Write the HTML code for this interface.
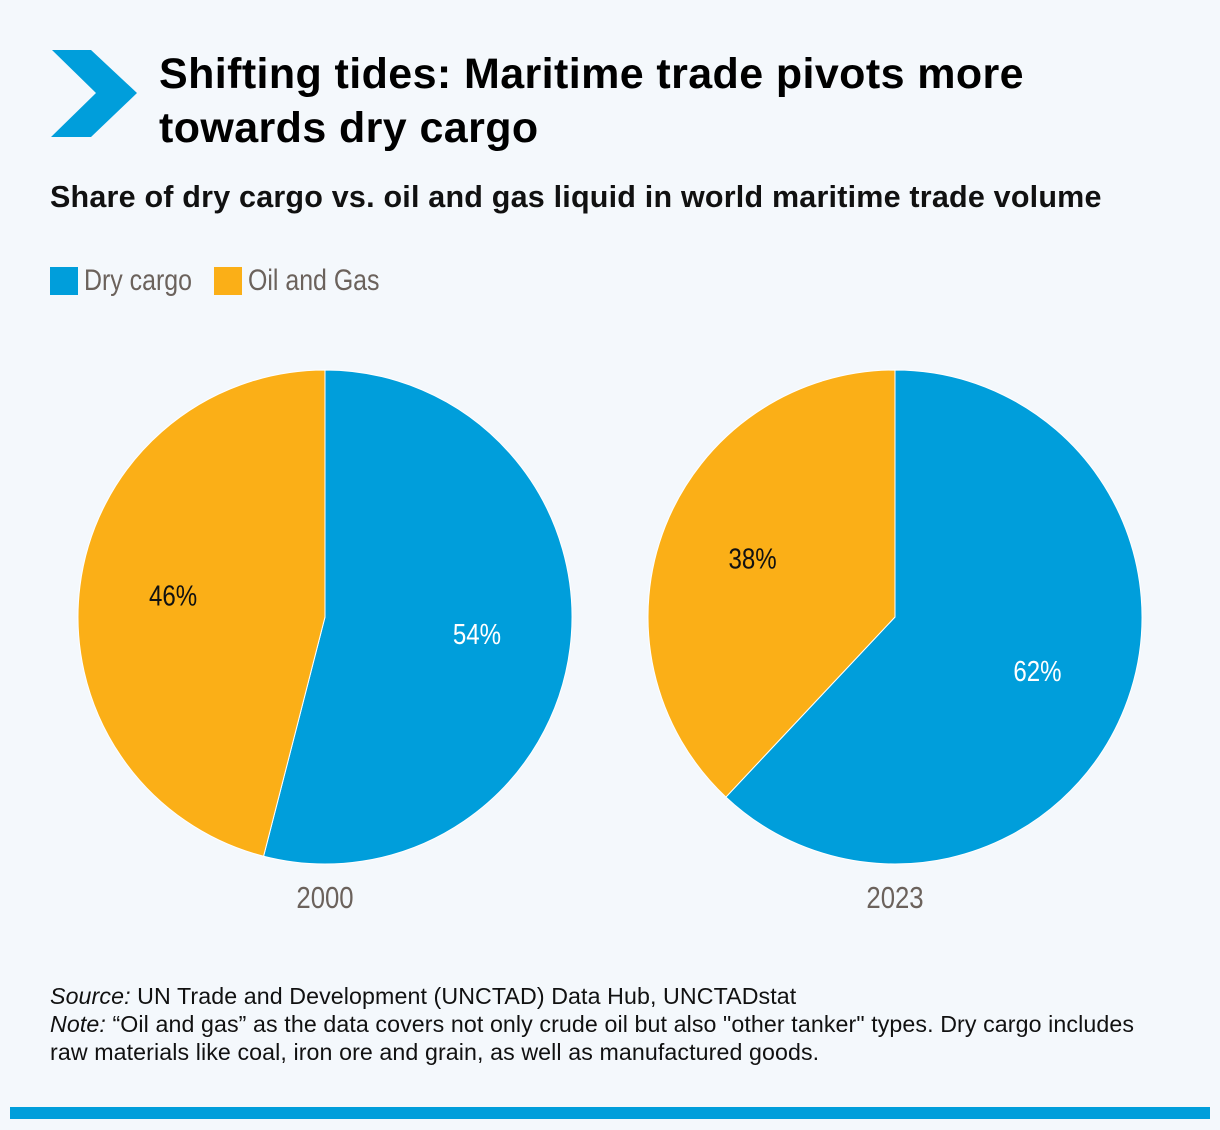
<!DOCTYPE html>
<html><head><meta charset="utf-8"><style>
body{margin:0;background:#f4f8fc;width:1220px;height:1130px;position:relative;overflow:hidden;font-family:"Liberation Sans",sans-serif}
.t{position:absolute;left:159px;top:47px;font-size:43px;font-weight:bold;line-height:54px;color:#000;letter-spacing:0.4px}
.st{position:absolute;left:50px;top:180px;font-size:30.5px;font-weight:bold;color:#111;letter-spacing:0.2px}
.lg{position:absolute;top:264px;font-size:30px;color:#6b625c;display:flex;align-items:center}
.lg span.tx{display:inline-block;transform:scaleX(0.83);transform-origin:left center}
.sw{width:28px;height:28px;display:inline-block;margin-right:6px}
.ft{position:absolute;left:50px;top:982px;font-size:23.2px;line-height:28px;color:#111;letter-spacing:0.1px}
</style></head><body>
<svg style="position:absolute;left:0;top:0" width="160" height="160"><polygon points="52,50 91,50 137,93 91,137 51,137 96,93" fill="#009edb"/></svg>
<div class="t">Shifting tides: Maritime trade pivots more<br>towards dry cargo</div>
<div class="st">Share of dry cargo vs. oil and gas liquid in world maritime trade volume</div>
<div class="lg" style="left:50px"><span class="sw" style="background:#009edb"></span><span class="tx">Dry cargo</span></div>
<div class="lg" style="left:214px"><span class="sw" style="background:#fbaf17"></span><span class="tx">Oil and Gas</span></div>
<svg id="ch" style="position:absolute;left:0;top:0" width="1220" height="960"></svg>
<div class="ft"><i>Source:</i> UN Trade and Development (UNCTAD) Data Hub, UNCTADstat<br><i>Note:</i> “Oil and gas” as the data covers not only crude oil but also "other tanker" types. Dry cargo includes<br>raw materials like coal, iron ore and grain, as well as manufactured goods.</div>
<div style="position:absolute;left:10px;top:1107px;width:1200px;height:12px;background:#009edb"></div>
<script>
const years=["2000","2023"];
const dryCargo=[54,62];
const oilGas=[46,38];
const centersX=[325,895],cy=617,R=247;
const svg=document.getElementById('ch'),NS='http://www.w3.org/2000/svg';
function pt(cx,a,r){return [cx+r*Math.sin(a),cy-r*Math.cos(a)];}
function slice(cx,a0,a1,col,name){
 const p=document.createElementNS(NS,'path');
 const [x0,y0]=pt(cx,a0,R),[x1,y1]=pt(cx,a1,R);
 p.setAttribute('d',`M${cx},${cy}L${x0},${y0}A${R},${R} 0 ${a1-a0>Math.PI?1:0} 1 ${x1},${y1}Z`);
 p.setAttribute('fill',col);p.setAttribute('stroke','#fff');p.setAttribute('stroke-width','1');
 
 
 svg.appendChild(p);
}
function label(x,y,txt,col,name,sz){
 const t=document.createElementNS(NS,'text');
 t.setAttribute('x',0);t.setAttribute('y',0);t.setAttribute('text-anchor','middle');t.setAttribute('dominant-baseline','middle');
 t.setAttribute('transform',`translate(${x},${y}) scale(0.83,1)`);
 t.setAttribute('font-family','"Liberation Sans",sans-serif');t.setAttribute('font-size',sz);t.setAttribute('fill',col);
 t.textContent=txt;
 
 
 svg.appendChild(t);
}
years.forEach((y,i)=>{
 const cx=centersX[i],tot=dryCargo[i]+oilGas[i];
 const a=dryCargo[i]/tot*2*Math.PI;
 slice(cx,0,a,'#009edb','slice-dry-cargo-'+y);
 slice(cx,a,2*Math.PI,'#fbaf17','slice-oil-gas-'+y);
 let [lx,ly]=pt(cx,a/2,R*0.62);
 label(lx,ly,dryCargo[i]+'%','#fff','label-dry-cargo-'+y,29);
 [lx,ly]=pt(cx,a+(2*Math.PI-a)/2,R*0.62);
 label(lx,ly,oilGas[i]+'%','#111','label-oil-gas-'+y,29);
 label(cx,900,y,'#6b625c','year-label-'+y,31);
});
</script>
</body></html>
